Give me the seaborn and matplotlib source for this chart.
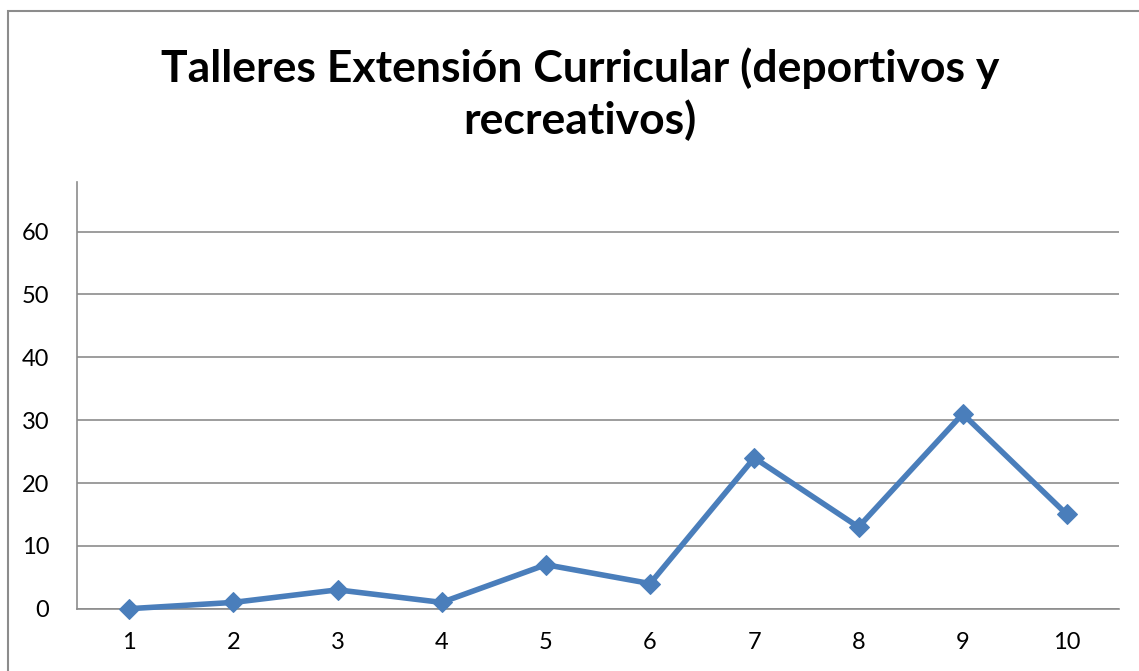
import matplotlib.pyplot as plt
import matplotlib.patches as mpatches
import pandas as pd
import seaborn as sns

categories = [1, 2, 3, 4, 5, 6, 7, 8, 9, 10]
values = [0, 1, 3, 1, 7, 4, 24, 13, 31, 15]
y_ticks = [0, 10, 20, 30, 40, 50, 60]
title = 'Talleres Extensión Curricular (deportivos y\nrecreativos)'

df = pd.DataFrame({'categoria': categories, 'valor': values})

sns.set_style('white')
plt.rcParams['font.family'] = ['Lato', 'DejaVu Sans']
plt.rcParams['text.color'] = 'black'
plt.rcParams['xtick.color'] = 'black'
plt.rcParams['ytick.color'] = 'black'

W, H = 1139, 671
fig = plt.figure(figsize=(W / 100, H / 100), dpi=100)
ax = fig.add_axes([77 / W, (H - 608.7) / H, (1119 - 77) / W, (608.7 - 182) / H])

# chart area border (cut by the image on the right and bottom)
fig.patches.append(mpatches.Rectangle((8 / W, -0.2), 1.5, 1.2 - 11 / H,
                                      transform=fig.transFigure, fill=False,
                                      edgecolor='#8c8c8c', linewidth=1.5))

sns.lineplot(data=df, x='categoria', y='valor', ax=ax, color='#4a7ebb',
             linewidth=4, marker='D', markersize=10, markeredgecolor='#4a7ebb',
             clip_on=False, zorder=5)

ax.set_xlim(0.5, 10.5)
ax.set_ylim(0, 67.9)
ax.set_yticks(y_ticks)
ax.set_xticks(categories)
ax.set_xticks([c - 0.5 for c in categories] + [10.5], minor=True)
ax.tick_params(axis='x', which='major', length=0, pad=17, labelsize=17)
ax.tick_params(axis='x', which='minor', length=8, color='#8c8c8c', width=1.2)
ax.tick_params(axis='y', length=8, color='#8c8c8c', width=1.2, pad=12, labelsize=17)
ax.yaxis.grid(True, color='#8c8c8c', linewidth=1.2)
ax.set_axisbelow(True)
for s in ['top', 'right']:
    ax.spines[s].set_visible(False)
for s in ['left', 'bottom']:
    ax.spines[s].set_color('#8c8c8c')
    ax.spines[s].set_linewidth(1.2)
ax.set_xlabel('')
ax.set_ylabel('')

fig.text(580 / W, 1 - 94 / H, title, ha='center', va='center', fontsize=32,
         fontweight='bold', linespacing=1.3, color='black')

fig.savefig('out.png', dpi=100)
